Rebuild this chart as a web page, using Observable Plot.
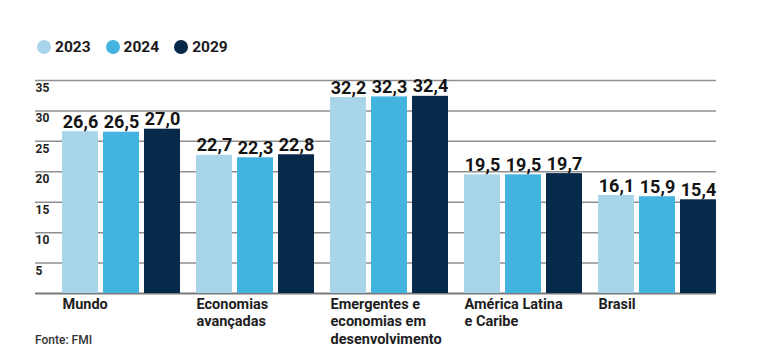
<!DOCTYPE html>
<html>
<head>
<meta charset="utf-8">
<script src="https://cdn.jsdelivr.net/npm/d3@7"></script>
<script src="https://cdn.jsdelivr.net/npm/@observablehq/plot@0.6"></script>
<style>
  html, body { margin: 0; padding: 0; background: #fff; }
  body { width: 768px; height: 359px; position: relative; overflow: hidden; font-family: Roboto, "Noto Sans", sans-serif; }
  #legend { display: flex; align-items: center; height: 16px; padding: 39px 0 11px 37px; }
  .item { display: flex; align-items: center; margin-right: 15px; font-size: 15.5px; font-weight: 700; color: #1a1a1a; }
  .sw { width: 14px; height: 14px; border-radius: 50%; margin-right: 4px; }
  #caption { position: absolute; left: 35px; top: 333px; font-size: 12px; color: #333; font-weight: 500; }
  #chart svg { display: block; }
</style>
</head>
<body>
<div id="legend"></div>
<div id="chart"></div>
<div id="caption">Fonte: FMI</div>
<script>
const categories = ["Mundo", "Economias avançadas", "Emergentes e economias em desenvolvimento", "América Latina e Caribe", "Brasil"];
const categoryLabels = ["Mundo", "Economias\navançadas", "Emergentes e\neconomias em\ndesenvolvimento", "América Latina\ne Caribe", "Brasil"];
const years = ["2023", "2024", "2029"];
const values2023 = [26.6, 22.7, 32.2, 19.5, 16.1];
const values2024 = [26.5, 22.3, 32.3, 19.5, 15.9];
const values2029 = [27.0, 22.8, 32.4, 19.7, 15.4];
const yTicks = [5, 10, 15, 20, 25, 30, 35];
const colors = ["#a9d5ea", "#43b3df", "#07294a"];

const series = [values2023, values2024, values2029];
const rows = [];
categories.forEach((c, i) => years.forEach((y, j) => rows.push({category: c, year: y, value: series[j][i]})));
const catRows = categories.map((c, i) => ({category: c, label: categoryLabels[i]}));
const gridRest = [];
categories.slice(1).forEach(c => yTicks.forEach(t => gridRest.push({category: c, t})));
const baseRest = categories.slice(1).map(c => ({category: c, t: 0}));
const first = categories[0];
const fmt = v => d3.format(".1f")(v).replace(".", ",");

// legend
const legend = document.getElementById("legend");
years.forEach((y, j) => {
  const it = document.createElement("div");
  it.className = "item";
  it.innerHTML = `<span class="sw" style="background:${colors[j]}"></span>${y}`;
  legend.appendChild(it);
});

const gridStroke = "#8f8f8f";
const chart = Plot.plot({
  width: 768,
  height: 293,
  marginTop: 14,
  marginBottom: 66,
  marginLeft: 62,
  marginRight: 52,
  style: {fontFamily: "Roboto, 'Noto Sans', sans-serif", background: "transparent"},
  fx: {domain: categories, paddingInner: 16 / 134, paddingOuter: 0, axis: null},
  x: {domain: years, paddingInner: 5 / 41, paddingOuter: 0, axis: null},
  y: {domain: [0, 35], axis: null},
  color: {domain: years, range: colors},
  marks: [
    Plot.ruleY(gridRest, {fx: "category", y: "t", insetLeft: -16, stroke: gridStroke, strokeWidth: 1.5}),
    Plot.ruleY(yTicks, {fx: () => first, y: d => d, insetLeft: -27, stroke: gridStroke, strokeWidth: 1.5}),
    Plot.ruleY(baseRest, {fx: "category", y: "t", insetLeft: -16, stroke: "#7a7a7a", strokeWidth: 2}),
    Plot.ruleY([0], {fx: () => first, y: d => d, insetLeft: -27, stroke: "#7a7a7a", strokeWidth: 2}),
    Plot.barY(rows, {fx: "category", x: "year", y: "value", fill: "year"}),
    Plot.text(rows, {fx: "category", x: "year", y: "value", text: d => fmt(d.value), lineAnchor: "bottom", dy: -4, fontSize: 18, fontWeight: 700, fill: "#141414"}),
    Plot.text(yTicks, {fx: () => first, y: d => d, text: d => String(d), frameAnchor: "left", dx: -27, dy: 3, textAnchor: "start", lineAnchor: "top", fontSize: 12, fontWeight: 700, fill: "#222"}),
    Plot.text(catRows, {fx: "category", text: "label", frameAnchor: "bottom-left", textAnchor: "start", lineAnchor: "top", dy: 3, fontSize: 14.5, fontWeight: 700, lineHeight: 1.2, fill: "#1e1e1e"})
  ]
});
document.getElementById("chart").appendChild(chart);
</script>
</body>
</html>
